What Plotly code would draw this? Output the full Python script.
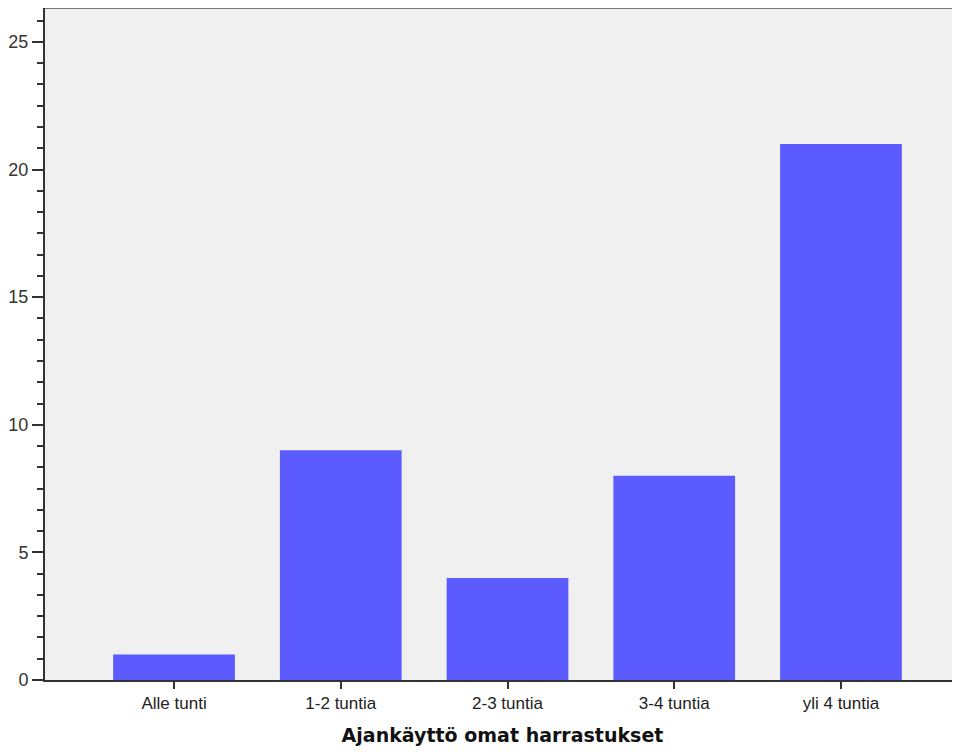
import plotly.graph_objects as go

categories = ["Alle tunti", "1-2 tuntia", "2-3 tuntia", "3-4 tuntia", "yli 4 tuntia"]
counts = [1, 9, 4, 8, 21]
y_tick_vals = [0, 5, 10, 15, 20, 25]
x_title = "Ajankäyttö omat harrastukset"

fig = go.Figure()
fig.add_trace(go.Bar(
    x=list(range(len(categories))),
    y=counts,
    width=0.73,
    marker=dict(color="#5b5bff", line=dict(width=0)),
    hoverinfo="skip",
))

fig.update_layout(
    width=952, height=746,
    margin=dict(l=37, r=0, t=0, b=74),
    paper_bgcolor="white",
    plot_bgcolor="#f0f0f0",
    showlegend=False,
    font=dict(family="Liberation Sans, Arial, sans-serif", color="#333333"),
    xaxis=dict(
        range=[-0.774, 4.714],
        tickmode="array",
        tickvals=list(range(len(categories))),
        ticktext=categories,
        ticks="outside", ticklen=7, tickwidth=2, tickcolor="#333333",
        showline=True, linecolor="#333333", linewidth=2,
        showgrid=False, zeroline=False,
        tickfont=dict(size=17, color="#222222"),
        title=dict(text="<b>" + x_title + "</b>", font=dict(size=19, color="#111111",
                   family="DejaVu Sans, sans-serif"), standoff=16),
    ),
    yaxis=dict(
        range=[0, 26.33],
        tickmode="array",
        tickvals=y_tick_vals,
        ticks="outside", ticklen=11, tickwidth=2, tickcolor="#333333",
        showline=True, linecolor="#333333", linewidth=2,
        showgrid=False, zeroline=False,
        ticklabelstandoff=0,
        tickfont=dict(size=18, color="#333333"),
        minor=dict(dtick=5/6, tick0=0, ticks="outside", ticklen=6, tickwidth=1.5,
                   tickcolor="#333333", showgrid=False),
    ),
    shapes=[dict(type="line", xref="paper", yref="paper", x0=0, x1=1, y0=1, y1=1,
                 line=dict(color="#777777", width=2))],
)

fig.write_html("out.html")
